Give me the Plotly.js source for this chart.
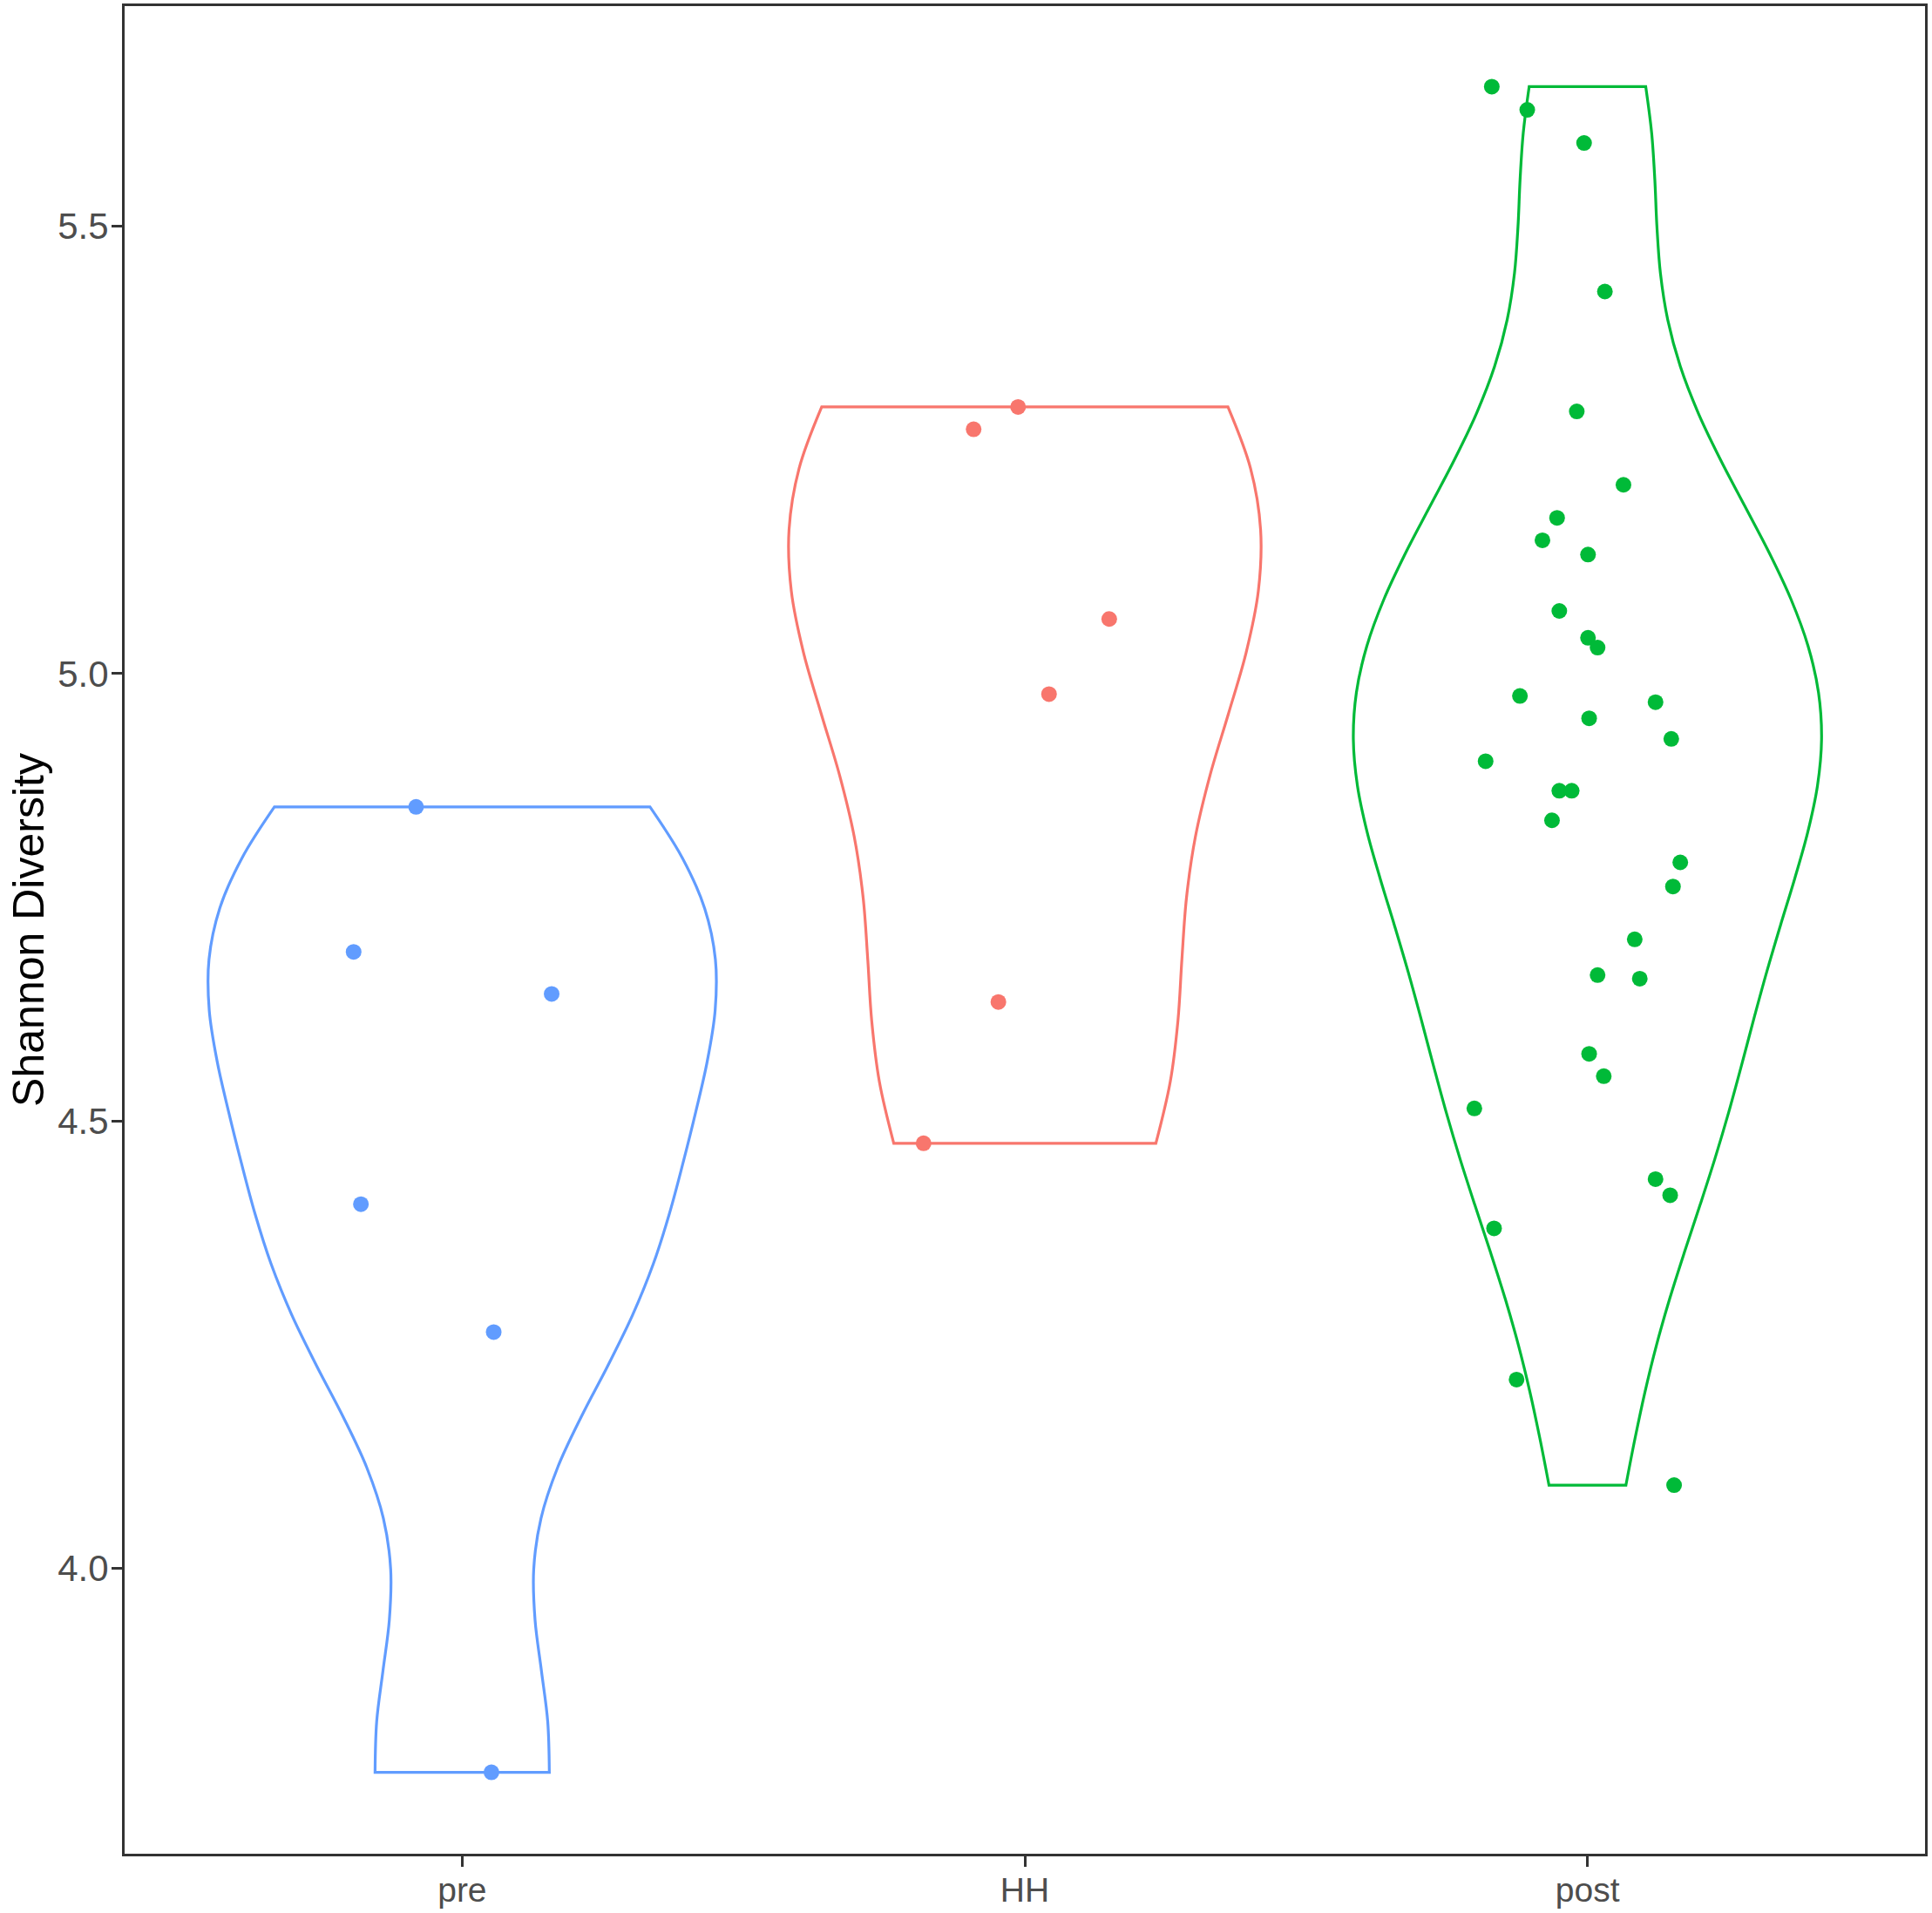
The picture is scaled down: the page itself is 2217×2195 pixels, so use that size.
<!DOCTYPE html>
<html>
<head>
<meta charset="utf-8">
<script src="https://cdn.plot.ly/plotly-3.0.1.min.js"></script>
<style>
  html, body { margin: 0; padding: 0; background: #ffffff; }
  #chart { width: 2217px; height: 2195px; }
</style>
</head>
<body>
<div id="chart"></div>
<script>
// ---- data ----
var categories = ["pre", "HH", "post"];
var yTickVals = [4.0, 4.5, 5.0, 5.5];
var yTickText = ["4.0", "4.5", "5.0", "5.5"];
var yTitle = "Shannon Diversity";

var preValues  = [4.851, 4.689, 4.642, 4.407, 4.264, 3.772];
var preJitter  = [-0.082, -0.193, 0.159, -0.180, 0.056, 0.052];

var hhValues   = [5.298, 5.273, 5.061, 4.977, 4.633, 4.475];
var hhJitter   = [-0.012, -0.091, 0.150, 0.043, -0.047, -0.180];

var postValues = [5.656, 5.630, 5.593, 5.427, 5.293, 5.211, 5.174, 5.149, 5.133, 5.070,
                  5.040, 5.029, 4.975, 4.968, 4.950, 4.927, 4.902, 4.869, 4.869, 4.836,
                  4.789, 4.762, 4.703, 4.663, 4.659, 4.575, 4.550, 4.514, 4.435, 4.417,
                  4.380, 4.211, 4.093];
var postJitter = [-0.170, -0.107, -0.006, 0.031, -0.019, 0.064, -0.054, -0.080, 0.001, -0.050,
                  0.001, 0.018, -0.120, 0.121, 0.003, 0.149, -0.181, -0.050, -0.028, -0.063,
                  0.165, 0.152, 0.084, 0.018, 0.093, 0.003, 0.029, -0.201, 0.121, 0.147,
                  -0.166, -0.126, 0.154];

var groupColors = ["#619CFF", "#F8766D", "#00BA38"];

// ---- helpers ----
function quantile7(sorted, p) {
  var h = (sorted.length - 1) * p;
  var lo = Math.floor(h);
  var hi = Math.min(lo + 1, sorted.length - 1);
  return sorted[lo] + (h - lo) * (sorted[hi] - sorted[lo]);
}
function bwNrd0(vals) {
  var n = vals.length;
  var mean = vals.reduce(function (a, b) { return a + b; }, 0) / n;
  var sd = Math.sqrt(vals.reduce(function (a, b) { return a + (b - mean) * (b - mean); }, 0) / (n - 1));
  var s = vals.slice().sort(function (a, b) { return a - b; });
  var iqr = quantile7(s, 0.75) - quantile7(s, 0.25);
  var lo = Math.min(sd, iqr / 1.34);
  if (!(lo > 0)) lo = sd || Math.abs(s[0]) || 1;
  return 0.9 * lo * Math.pow(n, -0.2);
}
// peak of gaussian KDE over the data span (for ggplot-style equal-area scaling)
function kdePeak(vals, bw) {
  var mn = Math.min.apply(null, vals), mx = Math.max.apply(null, vals);
  var best = 0, N = 512;
  for (var k = 0; k < N; k++) {
    var x = mn + (mx - mn) * k / (N - 1);
    var s = 0;
    for (var i = 0; i < vals.length; i++) {
      var z = (x - vals[i]) / bw;
      s += Math.exp(-0.5 * z * z);
    }
    s = s / (vals.length * bw * Math.sqrt(2 * Math.PI));
    if (s > best) best = s;
  }
  return best;
}

var groups = [
  { vals: preValues, jit: preJitter },
  { vals: hhValues, jit: hhJitter },
  { vals: postValues, jit: postJitter }
];
groups.forEach(function (g) {
  g.bw = bwNrd0(g.vals);
  g.peak = kdePeak(g.vals, g.bw);
});
var maxPeak = Math.max.apply(null, groups.map(function (g) { return g.peak; }));

var traces = [];
groups.forEach(function (g, i) {
  traces.push({
    type: "violin",
    x0: i + 1,
    y: g.vals,
    name: categories[i],
    orientation: "v",
    bandwidth: g.bw,
    spanmode: "hard",
    scalemode: "width",
    width: 0.9 * g.peak / maxPeak,
    points: false,
    line: { color: groupColors[i], width: 3.2 },
    fillcolor: "rgba(0,0,0,0)",
    hoverinfo: "skip",
    showlegend: false
  });
});
groups.forEach(function (g, i) {
  traces.push({
    type: "scatter",
    mode: "markers",
    x: g.jit.map(function (d) { return i + 1 + d; }),
    y: g.vals,
    marker: { color: groupColors[i], size: 18, line: { width: 0 } },
    hoverinfo: "skip",
    showlegend: false
  });
});

var layout = {
  width: 2217,
  height: 2195,
  margin: { l: 143, r: 8, t: 7, b: 68, pad: 0 },
  paper_bgcolor: "#ffffff",
  plot_bgcolor: "#ffffff",
  font: { family: "Liberation Sans, Arial, sans-serif", color: "#000000" },
  violinmode: "overlay",
  showlegend: false,
  xaxis: {
    range: [0.4, 3.6],
    tickvals: [1, 2, 3],
    ticktext: categories,
    showgrid: false,
    zeroline: false,
    showline: true,
    mirror: true,
    linecolor: "#333333",
    linewidth: 3,
    ticks: "outside",
    ticklen: 12,
    tickwidth: 3,
    tickcolor: "#333333",
    tickfont: { size: 39, color: "#4D4D4D" },
    ticklabelstandoff: -7
  },
  yaxis: {
    range: [3.681, 5.746],
    tickvals: yTickVals,
    ticktext: yTickText,
    showgrid: false,
    zeroline: false,
    showline: true,
    mirror: true,
    linecolor: "#333333",
    linewidth: 3,
    ticks: "outside",
    ticklen: 12,
    tickwidth: 3,
    tickcolor: "#333333",
    tickfont: { size: 42, color: "#4D4D4D" },
    ticklabelstandoff: -5,
    title: { text: yTitle, font: { size: 50, color: "#000000" }, standoff: 0 }
  }
};

Plotly.newPlot("chart", traces, layout, { staticPlot: true, displayModeBar: false });
</script>
</body>
</html>
